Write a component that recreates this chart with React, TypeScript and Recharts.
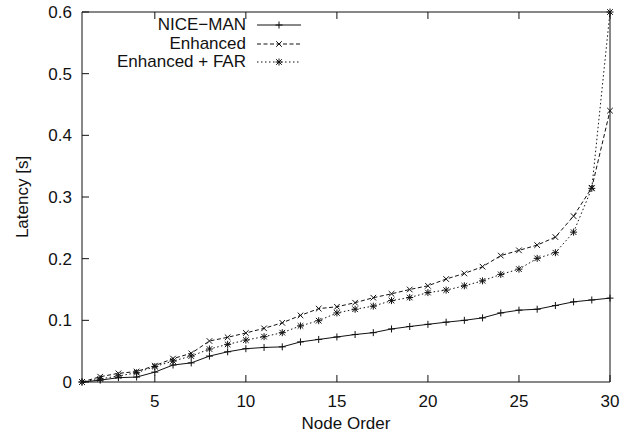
import { Legend, Line, LineChart, XAxis, YAxis } from "recharts";

const nodes = [1, 2, 3, 4, 5, 6, 7, 8, 9, 10, 11, 12, 13, 14, 15, 16, 17, 18, 19, 20, 21, 22, 23, 24, 25, 26, 27, 28, 29, 30];
const niceMan = [0, 0.003, 0.007, 0.008, 0.016, 0.0275, 0.031, 0.042, 0.049, 0.054, 0.056, 0.057, 0.065, 0.069, 0.073, 0.077, 0.08, 0.086, 0.09, 0.0935, 0.097, 0.1, 0.104, 0.112, 0.1165, 0.118, 0.124, 0.13, 0.133, 0.136];
const enhanced = [0, 0.0086, 0.014, 0.017, 0.0265, 0.038, 0.0465, 0.0665, 0.0725, 0.0795, 0.087, 0.096, 0.108, 0.119, 0.122, 0.1286, 0.1367, 0.143, 0.15, 0.156, 0.167, 0.176, 0.187, 0.205, 0.2135, 0.222, 0.235, 0.269, 0.315, 0.44];
const enhancedFar = [0, 0.005, 0.0097, 0.015, 0.025, 0.034, 0.042, 0.0535, 0.061, 0.068, 0.0735, 0.08, 0.091, 0.0994, 0.112, 0.118, 0.123, 0.132, 0.137, 0.145, 0.149, 0.156, 0.164, 0.1745, 0.183, 0.2005, 0.2097, 0.243, 0.314, 0.6];

const xTicks = [5, 10, 15, 20, 25, 30];
const yTicks = [0, 0.1, 0.2, 0.3, 0.4, 0.5, 0.6];
const legendOrder = ["nice", "enh", "far"];

const data = nodes.map((n, i) => ({
	node: n,
	nice: niceMan[i],
	enh: enhanced[i],
	far: enhancedFar[i],
}));

const FONT = "'Liberation Sans', Arial, Helvetica, sans-serif";
const INK = "#111";

type MarkKind = "plus" | "cross" | "star";

function Marker({ cx, cy, kind }: { cx: number; cy: number; kind: MarkKind }) {
	const s = 3.5;
	const plus = (
		<>
			<line x1={cx - s} y1={cy} x2={cx + s} y2={cy} />
			<line x1={cx} y1={cy - s} x2={cx} y2={cy + s} />
		</>
	);
	const cross = (
		<>
			<line x1={cx - s * 0.8} y1={cy - s * 0.8} x2={cx + s * 0.8} y2={cy + s * 0.8} />
			<line x1={cx - s * 0.8} y1={cy + s * 0.8} x2={cx + s * 0.8} y2={cy - s * 0.8} />
		</>
	);
	return (
		<g stroke={INK} strokeWidth={1} fill="none">
			{kind !== "cross" && plus}
			{kind !== "plus" && cross}
		</g>
	);
}

const seriesStyle: Record<string, { dash?: string; kind: MarkKind }> = {
	nice: { kind: "plus" },
	enh: { dash: "4 2.5", kind: "cross" },
	far: { dash: "1.5 2.5", kind: "star" },
};

const makeDot = (kind: MarkKind) => (props: any) => {
	const { cx, cy, index } = props;
	if (cx == null || cy == null) return <g key={`d-${kind}-${index}`} />;
	return <Marker key={`d-${kind}-${index}`} cx={cx} cy={cy} kind={kind} />;
};

function LegendBox({ payload }: any) {
	const items = [...(payload || [])].sort(
		(a: any, b: any) => legendOrder.indexOf(a.dataKey) - legendOrder.indexOf(b.dataKey),
	);
	return (
		<div style={{ fontFamily: FONT, fontSize: 17, color: INK }}>
			{items.map((p: any) => {
				const st = seriesStyle[p.dataKey];
				return (
					<div
						key={p.dataKey}
						style={{ display: "flex", justifyContent: "flex-end", alignItems: "center", height: 18.5, whiteSpace: "nowrap" }}
					>
						<span>{p.value}</span>
						<svg width={44} height={12} style={{ marginLeft: 11 }}>
							<line x1={0} y1={6} x2={44} y2={6} stroke={INK} strokeWidth={1} strokeDasharray={st.dash} />
							<Marker cx={22} cy={6} kind={st.kind} />
						</svg>
					</div>
				);
			})}
		</div>
	);
}

export default function App() {
	return (
		<div style={{ position: "absolute", left: 0, top: 0, background: "#fff" }}>
			<LineChart width={629} height={439} data={data} margin={{ top: 11, right: 18, bottom: 0, left: 0 }}>
				<XAxis
					dataKey="node"
					type="number"
					domain={[1, 30]}
					ticks={xTicks}
					height={57}
					tickSize={-7}
					tickMargin={20}
					stroke={INK}
					tick={{ fill: INK, fontSize: 17, fontFamily: FONT }}
					label={{ value: "Node Order", position: "insideBottom", offset: 10, fill: INK, fontSize: 17, fontFamily: FONT }}
				/>
				<XAxis
					xAxisId="top"
					orientation="top"
					dataKey="node"
					type="number"
					domain={[1, 30]}
					ticks={xTicks}
					height={1}
					tickSize={-7}
					stroke={INK}
					tickFormatter={() => ""}
				/>
				<YAxis
					domain={[0, 0.6]}
					ticks={yTicks}
					width={82}
					tickSize={-7}
					tickMargin={17}
					stroke={INK}
					tick={{ fill: INK, fontSize: 17, fontFamily: FONT }}
					label={{
						content: ({ viewBox }: any) => (
							<text
								x={viewBox.x + 22}
								y={viewBox.y + viewBox.height / 2}
								transform={`rotate(-90, ${viewBox.x + 22}, ${viewBox.y + viewBox.height / 2})`}
								textAnchor="middle"
								dominantBaseline="central"
								fill={INK}
								fontSize={17}
								fontFamily={FONT}
							>
								Latency [s]
							</text>
						),
					}}
				/>
				<YAxis
					yAxisId="right"
					orientation="right"
					domain={[0, 0.6]}
					ticks={yTicks}
					width={1}
					tickSize={-7}
					stroke={INK}
					tickFormatter={() => ""}
				/>
				<Legend
					layout="vertical"
					align="center"
					verticalAlign="middle"
					content={<LegendBox />}
					wrapperStyle={{ top: 16, left: 0, width: 301 }}
				/>
				<Line dataKey="nice" name="NICE−MAN" stroke={INK} strokeWidth={1} dot={makeDot("plus")} isAnimationActive={false} />
				<Line dataKey="enh" name="Enhanced" stroke={INK} strokeWidth={1} strokeDasharray="4 2.5" dot={makeDot("cross")} isAnimationActive={false} />
				<Line dataKey="far" name="Enhanced + FAR" stroke={INK} strokeWidth={1} strokeDasharray="1.5 2.5" dot={makeDot("star")} isAnimationActive={false} />
			</LineChart>
		</div>
	);
}
